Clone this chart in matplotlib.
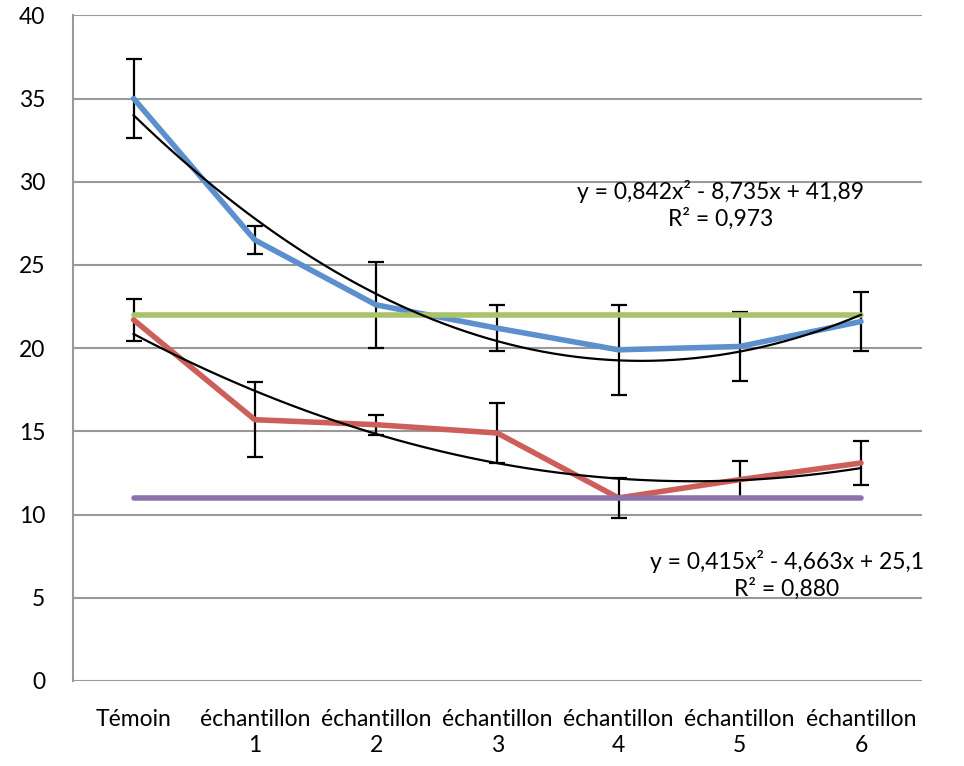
import numpy as np
import matplotlib
matplotlib.use("Agg")
import matplotlib.pyplot as plt

plt.rcParams['font.family'] = ['Lato', 'DejaVu Sans']

# ---- data ----
categories = ["Témoin", "échantillon\n1", "échantillon\n2", "échantillon\n3",
              "échantillon\n4", "échantillon\n5", "échantillon\n6"]
blue_vals = [35.0, 26.5, 22.6, 21.2, 19.9, 20.1, 21.6]
blue_err = [2.4, 0.85, 2.6, 1.4, 2.7, 2.05, 1.75]
red_vals = [21.7, 15.7, 15.4, 14.9, 11.0, 12.1, 13.1]
red_err = [1.25, 2.25, 0.6, 1.8, 1.2, 1.1, 1.35]
green_vals = [22, 22, 22, 22, 22, 22, 22]
purple_vals = [11, 11, 11, 11, 11, 11, 11]

# trendline coefficients as printed on the chart (x = 1..7)
blue_poly = [0.842, -8.735, 41.89]
red_poly = [0.415, -4.663, 25.1]
blue_eq = "y = 0,842x² - 8,735x + 41,89\nR² = 0,973"
red_eq = "y = 0,415x² - 4,663x + 25,1\nR² = 0,880"

BLUE = "#5B90CC"
RED = "#CD5F5A"
GREEN = "#A8C36A"
PURPLE = "#8C73B0"
GRID = "#999999"
FS = 16.5

fig = plt.figure(figsize=(9.64, 7.66), dpi=100)
ax = fig.add_axes([0.0757, 0.111, 0.8803, 0.869])

x = np.arange(len(categories))

ax.errorbar(x, blue_vals, yerr=blue_err, fmt='none', ecolor='black',
            elinewidth=1.6, capsize=6, capthick=1.6, zorder=3)
ax.errorbar(x, red_vals, yerr=red_err, fmt='none', ecolor='black',
            elinewidth=1.6, capsize=6, capthick=1.6, zorder=3)

ax.plot(x, blue_vals, color=BLUE, lw=4, solid_capstyle='round', zorder=4)
ax.plot(x, red_vals, color=RED, lw=4, solid_capstyle='round', zorder=4)
ax.plot(x, green_vals, color=GREEN, lw=4, solid_capstyle='round', zorder=4)
ax.plot(x, purple_vals, color=PURPLE, lw=4, solid_capstyle='round', zorder=4)

# polynomial trendlines
xs = np.linspace(1, 7, 200)
ax.plot(xs - 1, np.polyval(blue_poly, xs), color='black', lw=1.6, zorder=5)
ax.plot(xs - 1, np.polyval(red_poly, xs), color='black', lw=1.6, zorder=5)

ax.text(4.84, 28.6, blue_eq, ha='center', va='center', fontsize=FS,
        linespacing=1.25, zorder=6)
ax.text(5.39, 6.37, red_eq, ha='center', va='center', fontsize=FS,
        linespacing=1.25, zorder=6)

ax.set_xlim(-0.5, 6.5)
ax.set_ylim(0, 40)
ax.set_yticks(np.arange(0, 41, 5))
ax.set_xticks(x)
ax.set_xticklabels(categories, fontsize=FS, linespacing=1.3)
ax.tick_params(axis='y', labelsize=FS, length=0, pad=20)
ax.tick_params(axis='x', length=0, pad=20)

ax.grid(axis='y', color=GRID, lw=1.5, zorder=0)
for s in ['top', 'right', 'bottom']:
    ax.spines[s].set_visible(False)
ax.spines['left'].set_color(GRID)
ax.spines['left'].set_linewidth(1.5)

fig.savefig("out.png", dpi=100)
